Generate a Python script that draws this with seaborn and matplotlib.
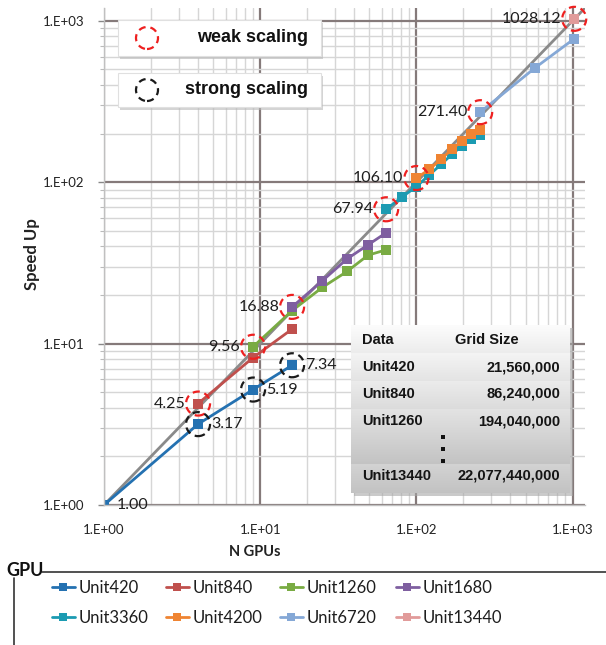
import numpy as np
import pandas as pd
import matplotlib
matplotlib.use("Agg")
import matplotlib.pyplot as plt
import seaborn as sns
from matplotlib.patches import Circle, Rectangle
from matplotlib.transforms import ScaledTranslation
from matplotlib.lines import Line2D
from matplotlib.ticker import LogLocator, NullFormatter

# ---------------- data ----------------
units = ["Unit420", "Unit840", "Unit1260", "Unit1680",
         "Unit3360", "Unit4200", "Unit6720", "Unit13440"]
colors = ["#2471b1", "#c0504d", "#79ab43", "#7f5fa0",
          "#1b9bb2", "#ef8432", "#85a8d6", "#e19b9a"]

n_420 = [1, 4, 9, 16]
s_420 = [1.00, 3.17, 5.19, 7.34]
n_840 = [4, 9, 16]
s_840 = [4.25, 8.19, 12.3]
n_1260 = [9, 16, 25, 36, 49, 64]
s_1260 = [9.56, 16.0, 22.3, 28.0, 35.3, 38.1]
n_1680 = [16, 25, 36, 49, 64]
s_1680 = [16.88, 24.5, 33.5, 40.9, 48.6]
n_3360 = [64, 81, 100, 121, 144, 169, 196, 225, 256]
s_3360 = [67.94, 81.0, 94.0, 111.0, 129.0, 149.0, 168.0, 184.0, 196.0]
n_4200 = [100, 121, 144, 169, 196, 225, 256]
s_4200 = [106.10, 120.0, 139.0, 160.0, 181.0, 199.0, 211.0]
n_6720 = [256, 576, 1024]
s_6720 = [271.40, 512.0, 774.0]
n_13440 = [1024]
s_13440 = [1028.12]

ideal_n = [1, 1200]
ideal_s = [1, 1200]

weak_n = [4, 9, 16, 64, 100, 256, 1024]
weak_s = [4.25, 9.56, 16.88, 67.94, 106.10, 271.40, 1028.12]
strong_n = [4, 9, 16]
strong_s = [3.17, 5.19, 7.34]
right_lab_n = [1, 4, 9, 16]
right_lab_s = [1.00, 3.17, 5.19, 7.34]

x_ticks = [1, 10, 100, 1000]
x_ticklabels = ["1.E+00", "1.E+01", "1.E+02", "1.E+03"]
y_ticks = [1, 10, 100, 1000]
y_ticklabels = ["1.E+00", "1.E+01", "1.E+02", "1.E+03"]

table_header = ["Data", "Grid Size"]
table_units = ["Unit420", "Unit840", "Unit1260", "Unit13440"]
table_sizes = ["21,560,000", "86,240,000", "194,040,000", "22,077,440,000"]

series_n = [n_420, n_840, n_1260, n_1680, n_3360, n_4200, n_6720, n_13440]
series_s = [s_420, s_840, s_1260, s_1680, s_3360, s_4200, s_6720, s_13440]

rows = []
for u, ns, ss in zip(units, series_n, series_s):
    for a, b in zip(ns, ss):
        rows.append((u, a, b))
df = pd.DataFrame(rows, columns=["unit", "n", "speedup"])

# ---------------- style ----------------
sns.set_theme(style="white")
plt.rcParams["font.family"] = ["Lato", "DejaVu Sans"]

W, H = 606, 645
fig = plt.figure(figsize=(W / 100, H / 100), dpi=100)
fig.patch.set_facecolor("white")

def fx(x):
    return x / W

def fy(y):
    return 1 - y / H

ax = fig.add_axes([fx(104), fy(505), (585 - 104) / W, (505 - 8) / H])
ax.set_xscale("log")
ax.set_yscale("log")
ax.set_xlim(1, 1200)
ax.set_ylim(1, 1200)

ax.plot(ideal_n, ideal_s, color="#8a8a8a", lw=2, zorder=1.9)

sns.lineplot(data=df, x="n", y="speedup", hue="unit", hue_order=units,
             palette=colors, marker="s", markersize=7, markeredgewidth=0,
             linewidth=2, legend=False, ax=ax, estimator=None, sort=True)

# grid
ax.xaxis.set_minor_locator(LogLocator(base=10, subs=np.arange(2, 10)))
ax.yaxis.set_minor_locator(LogLocator(base=10, subs=np.arange(2, 10)))
ax.xaxis.set_minor_formatter(NullFormatter())
ax.yaxis.set_minor_formatter(NullFormatter())
ax.grid(which="minor", color="#d6d6d6", lw=1.0)
ax.grid(which="major", color="#857a7a", lw=1.6)
ax.set_axisbelow(True)

ax.set_xticks(x_ticks)
ax.set_xticklabels(x_ticklabels)
ax.set_yticks(y_ticks)
ax.set_yticklabels(y_ticklabels)
ax.tick_params(axis="x", which="both", length=0, pad=14, labelsize=9.5, colors="#222222")
ax.tick_params(axis="y", which="major", length=4, width=1, color="#888888", pad=10,
               labelsize=9.5, labelcolor="#222222", left=True)
ax.tick_params(axis="y", which="minor", length=3, width=0.8, color="#bbbbbb", left=True)
for s in ["top", "right"]:
    ax.spines[s].set_visible(False)
for s in ["left", "bottom"]:
    ax.spines[s].set_color("#c0c0c0")
    ax.spines[s].set_linewidth(1)

ax.set_xlabel("N GPUs", fontsize=10.5, fontweight="bold", color="#222222")
ax.set_ylabel("Speed Up", fontsize=12, fontweight="bold", color="#222222")
ax.xaxis.set_label_coords((255 - 104) / 481, (505 - 545) / 497)
ax.yaxis.set_label_coords((40 - 104) / 481, (505 - 254) / 497)

# dashed circles
def ring(x, y, color, r=12):
    c = Circle((0, 0), r, transform=ScaledTranslation(x, y, ax.transData),
               fill=False, ec=color, lw=1.6, ls=(0, (3.2, 2.2)), zorder=6, clip_on=False)
    ax.add_artist(c)

for x, y in zip(weak_n, weak_s):
    ring(x, y, "#ee2020")
for x, y in zip(strong_n, strong_s):
    ring(x, y, "#1a1a1a")

# data labels
for x, y in zip(weak_n, weak_s):
    ax.annotate(f"{y:.2f}", (x, y), xytext=(-13, 0), textcoords="offset pixels",
                ha="right", va="center", fontsize=11.5, color="#1e1e1e", zorder=7)
for x, y in zip(right_lab_n, right_lab_s):
    ax.annotate(f"{y:.2f}", (x, y), xytext=(13, 0), textcoords="offset pixels",
                ha="left", va="center", fontsize=11.5, color="#1e1e1e", zorder=7)

# ---------------- upper-left key boxes ----------------
def key_box(y0, y1, text, ring_color):
    x0, x1 = 118, 321
    sh = Rectangle((fx(x0 + 2), fy(y1 + 3)), (x1 - x0) / W, (y1 - y0) / H,
                   transform=fig.transFigure, fc="#b8b8b8", ec="none", alpha=0.6, zorder=8)
    fig.add_artist(sh)
    bx = Rectangle((fx(x0), fy(y1)), (x1 - x0) / W, (y1 - y0) / H,
                   transform=fig.transFigure, fc="white", ec="#e0e0e0", lw=0.8, zorder=9)
    fig.add_artist(bx)
    cy = (y0 + y1) / 2
    c = Circle((0, 0), 11, transform=ScaledTranslation(fx(147), fy(cy), fig.transFigure),
               fill=False, ec=ring_color, lw=1.6, ls=(0, (3.2, 2.2)), zorder=10)
    fig.add_artist(c)
    fig.text(fx(308), fy(cy), text, ha="right", va="center", fontsize=13,
             fontweight="bold", family=["Liberation Sans", "DejaVu Sans"],
             color="#111111", zorder=10)

key_box(20, 56, "weak scaling", "#ee2020")
key_box(73, 107, "strong scaling", "#1a1a1a")

# ---------------- grid size table ----------------
tx0, tx1, ty0, ty1 = 351, 570, 325, 493
sh = Rectangle((fx(tx0 + 3), fy(ty1 + 3)), (tx1 - tx0) / W, (ty1 - ty0) / H,
               transform=fig.transFigure, fc="#a8a8a8", ec="none", alpha=0.6, zorder=8)
fig.add_artist(sh)
tax = fig.add_axes([fx(tx0), fy(ty1), (tx1 - tx0) / W, (ty1 - ty0) / H], zorder=9)
hgt = ty1 - ty0
yy = np.arange(hgt)
base = 252 - 50 * (yy / hgt)
bands = [325, 353, 381, 409, 437, 464, 493]
band = np.zeros(hgt)
for b0, b1 in zip(bands[:-1], bands[1:]):
    m = (yy + ty0 >= b0) & (yy + ty0 < b1)
    band[m] = -8 * (yy[m] + ty0 - b0) / (b1 - b0)
band[(yy + ty0 >= 437) & (yy + ty0 < 464)] -= 8
vals = np.clip(base + band, 0, 255) / 255.0
img = np.repeat(vals[:, None], 10, axis=1)
img = np.dstack([img, img, img])
tax.imshow(img, aspect="auto", extent=[0, 1, 0, 1], interpolation="bilinear")
tax.set_xlim(0, 1)
tax.set_ylim(0, 1)
tax.axis("off")

def ty(py):
    return (ty1 - py) / hgt

def tx(px):
    return (px - tx0) / (tx1 - tx0)

tfont = dict(fontsize=10.5, fontweight="bold", family=["Liberation Sans", "DejaVu Sans"],
             color="#141414", va="center")
tax.text(tx(362), ty(340), table_header[0], ha="left", **tfont)
tax.text(tx(455), ty(340), table_header[1], ha="left", **tfont)
row_y = [367, 394, 421, 476]
for u, sz, py in zip(table_units, table_sizes, row_y):
    tax.text(tx(362), ty(py), u, ha="left", **tfont)
    tax.text(tx(560), ty(py), sz, ha="right", **tfont)
for py in [437, 449, 461]:
    tax.plot([tx(443)], [ty(py)], marker="s", ms=3.4, color="#111111", mew=0)

# ---------------- bottom legend (one legend per column) ----------------
handles = [Line2D([], [], color=c, lw=2, marker="s", ms=6, mew=0) for c in colors]
col_x = [52, 166, 280, 396]
for ci in range(4):
    idx = [ci, ci + 4]
    leg = fig.legend([handles[i] for i in idx], [units[i] for i in idx], ncol=1,
                     loc="upper left", bbox_to_anchor=(fx(col_x[ci]), fy(580)),
                     frameon=False, fontsize=12, handlelength=1.35, handletextpad=0.25,
                     labelspacing=0.85, borderaxespad=0, borderpad=0)
    for t in leg.get_texts():
        t.set_color("#1e1e1e")

fig.text(fx(6), fy(571), "GPU", fontsize=13, fontweight="bold", va="center",
         ha="left", color="#111111")
fig.add_artist(Line2D([fx(42), 1.0], [fy(572), fy(572)], color="#333333", lw=1.2,
                      transform=fig.transFigure))
fig.add_artist(Line2D([fx(14), fx(14)], [fy(578), 0.0], color="#333333", lw=1.2,
                      transform=fig.transFigure))

fig.savefig("out.png", dpi=100, facecolor="white")
